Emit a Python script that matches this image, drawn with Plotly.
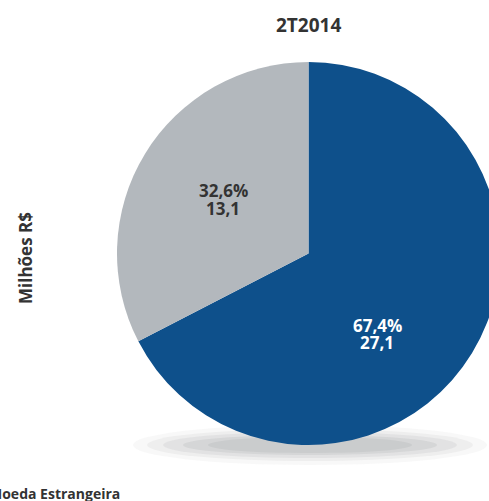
import plotly.graph_objects as go

categories = ["Moeda Nacional", "Moeda Estrangeira"]
values = [27.1, 13.1]
colors = ["#0e508b", "#b3b8bd"]
text_colors = ["#ffffff", "#333333"]
title_text = "2T2014"
y_label = "Milhões R$"
legend_label = "Moeda Estrangeira"

FW, FH = 500, 501
FONT = "Open Sans"


def px(x):
    return x / FW


def py(y):
    return 1 - y / FH


fig = go.Figure()

# soft shadow under the pie (stacked translucent ellipses)
for dx, dy, op in [(0, 0, 0.05), (14, 4, 0.07), (30, 7, 0.09), (50, 10, 0.11), (75, 12, 0.1)]:
    x0, x1 = 133 + dx, 487 - dx
    y0, y1 = 425 + dy, 465 - dy
    fig.add_shape(type="circle", xref="paper", yref="paper",
                  x0=px(x0), x1=px(x1), y0=py(y1), y1=py(y0),
                  fillcolor="#6f7377", opacity=op, line_width=0, layer="below")

fig.add_trace(go.Pie(
    labels=categories,
    values=values,
    sort=False,
    direction="clockwise",
    rotation=0,
    marker=dict(colors=colors, line=dict(width=0)),
    textinfo="none",
    showlegend=False,
    hoverinfo="skip",
    domain=dict(x=[px(117), 1], y=[py(445), py(62)]),
))

total = sum(values)
pct_txt = [f"{v / total * 100:.1f}%".replace(".", ",") for v in values]
val_txt = [f"{v:.1f}".replace(".", ",") for v in values]
# label anchor positions (page pixels) for each slice: (x, y line1, y line2)
label_pos = [(377, 325, 342), (223, 190, 208)]

annotations = [
    dict(text=f"<b>{title_text}</b>", x=px(308), y=py(25), xref="paper", yref="paper",
         showarrow=False, font=dict(family=FONT, size=19, color="#333333"),
         xanchor="center", yanchor="middle"),
    dict(text=f"<b>{y_label}</b>", x=px(25), y=py(258), xref="paper", yref="paper",
         showarrow=False, textangle=-90, font=dict(family=FONT, size=17, color="#333333"),
         xanchor="center", yanchor="middle"),
    dict(text=f"<b>{legend_label}</b>", x=px(122), y=py(493), xref="paper", yref="paper",
         showarrow=False, font=dict(family=FONT, size=14, color="#333333"),
         xanchor="right", yanchor="middle"),
]
for (lx, ly1, ly2), p, v, c in zip(label_pos, pct_txt, val_txt, text_colors):
    annotations.append(dict(text=f"<b>{p}</b>", x=px(lx), y=py(ly1), xref="paper", yref="paper",
                            showarrow=False, font=dict(family=FONT, size=17, color=c),
                            xanchor="center", yanchor="middle"))
    annotations.append(dict(text=f"<b>{v}</b>", x=px(lx), y=py(ly2), xref="paper", yref="paper",
                            showarrow=False, font=dict(family=FONT, size=17, color=c),
                            xanchor="center", yanchor="middle"))

fig.update_layout(
    width=FW, height=FH,
    margin=dict(l=0, r=0, t=0, b=0),
    paper_bgcolor="white",
    plot_bgcolor="white",
    annotations=annotations,
)

fig.write_html(
    "out.html",
    config={"displayModeBar": False},
    post_script="document.body.style.margin='0';document.body.style.overflow='hidden';",
)
